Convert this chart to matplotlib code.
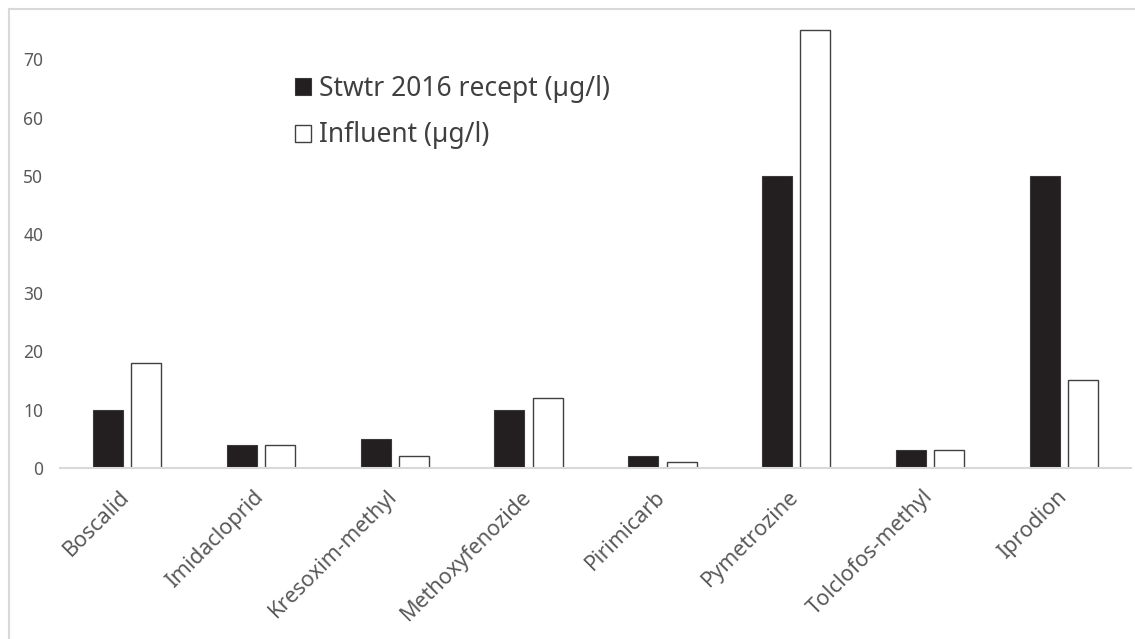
import matplotlib
matplotlib.use("Agg")
import matplotlib.pyplot as plt
import matplotlib.transforms as mtransforms
import numpy as np
from matplotlib.lines import Line2D

plt.rcParams['font.family'] = ['Noto Sans', 'DejaVu Sans']

# Pesticide concentrations
compounds = ['Boscalid', 'Imidacloprid', 'Kresoxim-methyl', 'Methoxyfenozide',
             'Pirimicarb', 'Pymetrozine', 'Tolclofos-methyl', 'Iprodion']
stwtr_2016 = [10, 4, 5, 10, 2, 50, 3, 50]
influent = [18, 4, 2, 12, 1, 75, 3, 15]
yticks = [0, 10, 20, 30, 40, 50, 60, 70]

W, H = 1135, 639
fig = plt.figure(figsize=(W / 100, H / 100), dpi=100)
ax = fig.add_axes([60 / W, 1 - 468 / H, 1071 / W, 449.7 / H])

x = np.arange(len(compounds))
bw = 0.224
off = 0.143
ax.bar(x - off, stwtr_2016, bw, color='#231f20', edgecolor='#3a3a3a', linewidth=0.8,
       label='Stwtr 2016 recept (µg/l)')
ax.bar(x + off, influent, bw, color='white', edgecolor='#404040', linewidth=1.0,
       label='Influent (µg/l)')

ax.set_xlim(-0.5, len(compounds) - 0.5)
ax.set_ylim(0, 77)
ax.set_yticks(yticks)
ax.set_xticks(x)
ax.set_xticklabels(compounds, rotation=45, ha='right', rotation_mode='anchor')
ax.tick_params(axis='y', length=0, pad=12, labelsize=12.5, labelcolor='#595959')
ax.tick_params(axis='x', length=0, pad=8, labelsize=15.5, labelcolor='#595959')

# nudge the slanted labels so their ends sit under the group centres
shift = mtransforms.ScaledTranslation(-8 / 100, -7 / 100, fig.dpi_scale_trans)
for lbl in ax.get_xticklabels():
    lbl.set_transform(lbl.get_transform() + shift)

for s in ['top', 'right', 'left']:
    ax.spines[s].set_visible(False)
ax.spines['bottom'].set_color('#d9d9d9')
ax.spines['bottom'].set_linewidth(1.5)
ax.set_zorder(1)

leg = ax.legend(loc='upper left', bbox_to_anchor=(295 / W, 1 - 75 / H),
                bbox_transform=fig.transFigure, frameon=False, fontsize=19,
                handlelength=0.62, handleheight=0.62, handletextpad=0.28,
                labelspacing=0.7, borderpad=0, borderaxespad=0)
for t in leg.get_texts():
    t.set_color('#404040')

# light chart-area border (left and top edges)
fig.add_artist(Line2D([8.5 / W, 8.5 / W], [0, 1 - 9 / H], transform=fig.transFigure,
                      color='#d9d9d9', lw=1.5))
fig.add_artist(Line2D([8.5 / W, 1], [1 - 9 / H, 1 - 9 / H], transform=fig.transFigure,
                      color='#d9d9d9', lw=1.5))

fig.savefig('out.png', dpi=100)
